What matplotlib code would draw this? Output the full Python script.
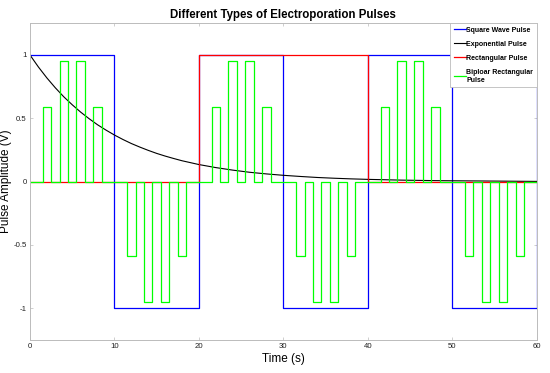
"""
Different types of electroporation pulses (square, exponential,
rectangular and bipolar rectangular)
"""

import matplotlib.pyplot as plt

plt.rcParams["font.family"] = ["Liberation Sans", "DejaVu Sans"]

# square wave: level held from each edge to the next
square_edges = [0, 10, 20, 30, 40, 50, 60]
square_levels = [1, -1, 1, -1, 1, -1, 1]

# exponential decay, read every 1 s up to 20 s, then every 2 s
exp_time = [0, 1, 2, 3, 4, 5, 6, 7, 8, 9, 10, 11, 12, 13, 14, 15, 16, 17,
            18, 19, 20, 22, 24, 26, 28, 30, 32, 34, 36, 38, 40, 42, 44, 46,
            48, 50, 52, 54, 56, 58, 60]
exp_values = [1.0, 0.905, 0.819, 0.741, 0.670, 0.607, 0.549, 0.497, 0.449,
              0.407, 0.368, 0.333, 0.301, 0.273, 0.247, 0.223, 0.202, 0.183,
              0.165, 0.150, 0.135, 0.111, 0.091, 0.074, 0.061, 0.050, 0.041,
              0.033, 0.027, 0.022, 0.018, 0.015, 0.012, 0.010, 0.008, 0.007,
              0.006, 0.005, 0.004, 0.003, 0.002]

# rectangular pulse
rect_edges = [0, 20, 40, 60]
rect_levels = [0, 1, 0, 0]

# bipolar rectangular pulse train (each pulse 1 s wide)
bipolar_starts = [1.5, 3.5, 5.5, 7.5, 11.5, 13.5, 15.5, 17.5,
                  21.5, 23.5, 25.5, 27.5, 31.5, 33.5, 35.5, 37.5,
                  41.5, 43.5, 45.5, 47.5, 51.5, 53.5, 55.5, 57.5]
bipolar_heights = [0.59, 0.95, 0.95, 0.59, -0.59, -0.95, -0.95, -0.59,
                   0.59, 0.95, 0.95, 0.59, -0.59, -0.95, -0.95, -0.59,
                   0.59, 0.95, 0.95, 0.59, -0.59, -0.95, -0.95, -0.59]
pulse_width = 1.0

x_ticks = [0, 10, 20, 30, 40, 50, 60]
y_ticks = [-1, -0.5, 0, 0.5, 1]
y_tick_labels = ["-1", "-0.5", "0", "0.5", "1"]

bx, by = [0], [0]
for s, h in zip(bipolar_starts, bipolar_heights):
    bx += [s, s, s + pulse_width, s + pulse_width]
    by += [0, h, h, 0]
bx.append(60)
by.append(0)

fig = plt.figure(figsize=(5.5, 3.73), dpi=100)
ax = fig.add_axes([0.0545, 0.0885, 0.9215, 0.849])

lw = 0.9
ax.step(square_edges, square_levels, where="post", color="#0000ff",
        lw=lw, label="Square Wave Pulse")
ax.plot(exp_time, exp_values, color="black", lw=0.8, label="Exponential Pulse")
ax.step(rect_edges, rect_levels, where="post", color="#ff0000",
        lw=lw, label="Rectangular Pulse")
ax.plot(bx, by, color="#00ff00", lw=lw, label="Biploar Rectangular\nPulse")

ax.set_xlim(0, 60)
ax.set_ylim(-1.25, 1.25)
ax.set_xticks(x_ticks)
ax.set_yticks(y_ticks)
ax.set_yticklabels(y_tick_labels)
ax.tick_params(direction="in", length=2.5, width=0.5, labelsize=5.6,
               colors="#bbbbbb", labelcolor="#222222", top=True, right=True,
               pad=2.5)
for sp in ax.spines.values():
    sp.set_color("#bbbbbb")
    sp.set_linewidth(0.7)

ax.set_title("Different Types of Electroporation Pulses", fontsize=8.3,
             fontweight="bold", pad=4)
ax.set_xlabel("Time (s)", fontsize=8.5, labelpad=2)
ax.set_ylabel("Pulse Amplitude (V)", fontsize=8.5)
ax.yaxis.set_label_coords(-0.036, 0.5)

leg = ax.legend(loc="upper right", borderaxespad=0, fancybox=False,
                framealpha=1, edgecolor="#bbbbbb", handlelength=1.7,
                handletextpad=0.1, labelspacing=1.0, borderpad=0.5,
                prop={"weight": "bold", "size": 5.0})
leg.get_frame().set_linewidth(0.6)

fig.savefig("out.png", dpi=100)
